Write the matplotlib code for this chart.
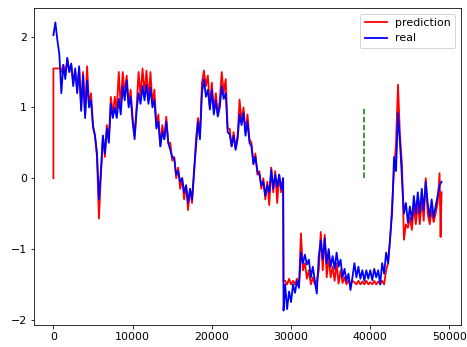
import matplotlib
matplotlib.use("Agg")
import matplotlib.pyplot as plt
from matplotlib.ticker import MultipleLocator

# ---------- Data ----------
real_x = [0, 250, 500, 750, 1000, 1250, 1500, 1750, 2000, 2250, 2500, 2750, 3000, 3250, 3500, 3750,
          4000, 4250, 4500, 4750, 5000, 5250, 5500, 5750, 6000, 6250, 6500, 6750, 7000, 7250, 7500, 7750,
          8000, 8250, 8500, 8750, 9000, 9250, 9500, 9750, 10000, 10250, 10500, 10750, 11000, 11250, 11500, 11750,
          12000, 12250, 12500, 12750, 13000, 13250, 13500, 13750, 14000, 14250, 14500, 14750, 15000, 15250, 15500, 15750,
          16000, 16250, 16500, 16750, 17000, 17250, 17500, 17750, 18000, 18250, 18500, 18750, 19000, 19250, 19500, 19750,
          20000, 20250, 20500, 20750, 21000, 21250, 21500, 21750, 22000, 22250, 22500, 22750, 23000, 23250, 23500, 23750,
          24000, 24250, 24500, 24750, 25000, 25250, 25500, 25750, 26000, 26250, 26500, 26750, 27000, 27250, 27500, 27750,
          28000, 28250, 28500, 28750, 29000, 29050, 29250, 29500, 29750, 30000, 30250, 30500, 30750, 31000, 31250, 31500,
          31750, 32000, 32250, 32500, 32750, 33000, 33250, 33500, 33750, 34000, 34250, 34500, 34750, 35000, 35250, 35500,
          35750, 36000, 36250, 36500, 36750, 37000, 37250, 37500, 37750, 38000, 38250, 38500, 38750, 39000, 39250, 39500,
          39750, 40000, 40250, 40500, 40750, 41000, 41250, 41500, 41750, 42000, 42250, 42500, 42750, 43000, 43250, 43500,
          43750, 44000, 44250, 44500, 44750, 45000, 45250, 45500, 45750, 46000, 46250, 46500, 46750, 47000, 47250, 47500,
          47750, 48000, 48250, 48500, 48750, 49000]
real_y = [2.02, 2.2, 1.95, 1.75, 1.2, 1.6, 1.4, 1.7, 1.5, 1.62, 1.3, 1.55, 1.2, 1.58, 0.95, 1.45,
          0.85, 1.38, 1.0, 1.1, 0.72, 0.6, 0.35, -0.3, 0.1, 0.6, 0.35, 0.7, 0.5, 1.05, 0.85, 1.0,
          0.85, 1.12, 0.9, 1.3, 1.1, 1.38, 1.0, 1.15, 0.8, 0.55, 0.95, 1.2, 1.05, 1.3, 1.1, 1.32,
          1.05, 1.28, 1.0, 1.1, 0.7, 0.8, 0.45, 0.65, 0.55, 0.8, 0.5, 0.4, 0.3, 0.28, 0.05, 0.1,
          -0.05, 0.0, -0.2, -0.1, -0.35, -0.15, -0.3, 0.1, 0.45, 0.8, 0.55, 1.2, 1.4, 1.15, 1.25, 0.97,
          1.25, 0.9, 1.1, 0.87, 1.0, 1.3, 1.12, 1.2, 0.65, 0.62, 0.45, 0.6, 0.4, 0.55, 0.9, 0.75,
          0.92, 0.6, 0.8, 0.5, 0.45, 0.2, 0.3, 0.1, 0.05, -0.1, -0.05, -0.25, -0.1, -0.2, 0.12, -0.15,
          0.05, -0.12, 0.05, -0.15, 0.0, -1.87, -1.5, -1.85, -1.6, -1.75, -1.5, -1.62, -1.45, -1.55, -1.05, -1.2,
          -1.08, -1.22, -1.15, -1.4, -1.25, -1.45, -1.63, -1.1, -0.88, -1.15, -0.85, -1.2, -1.0, -1.25, -1.1, -1.28,
          -1.05, -1.25, -1.15, -1.4, -1.28, -1.45, -1.35, -1.58, -1.4, -1.2, -1.4, -1.25, -1.42, -1.3, -1.45, -1.3,
          -1.42, -1.3, -1.44, -1.28, -1.4, -1.3, -1.5, -1.2, -1.35, -1.05, -1.2, -0.85, -0.5, 0.3, 0.1, 0.92,
          0.5, 0.0, -0.5, -0.35, -0.63, -0.4, -0.6, -0.25, -0.5, -0.2, -0.5, -0.15, -0.45, -0.05, -0.35, -0.55,
          -0.3, -0.55, -0.4, -0.25, -0.1, -0.05]

pred_x = [0, 0, 900, 1000, 1250, 1500, 1750, 2000, 2250, 2500, 2750, 3000, 3250, 3500, 3750,
          4000, 4250, 4500, 4750, 5000, 5250, 5500, 5750, 6000, 6250, 6500, 6750, 7000, 7250, 7500, 7750,
          8000, 8250, 8500, 8750, 9000, 9250, 9500, 9750, 10000, 10250, 10500, 10750, 11000, 11250, 11500, 11750,
          12000, 12250, 12500, 12750, 13000, 13250, 13500, 13750, 14000, 14250, 14500, 14750, 15000, 15250, 15500, 15750,
          16000, 16250, 16500, 16750, 17000, 17250, 17500, 17750, 18000, 18250, 18500, 18750, 19000, 19250, 19500, 19750,
          20000, 20250, 20500, 20750, 21000, 21250, 21500, 21750, 22000, 22250, 22500, 22750, 23000, 23250, 23500, 23750,
          24000, 24250, 24500, 24750, 25000, 25250, 25500, 25750, 26000, 26250, 26500, 26750, 27000, 27250, 27500, 27750,
          28000, 28250, 28500, 28750, 29000, 29050, 29250, 29500, 29750, 30000, 30250, 30500, 30750, 31000, 31250, 31500,
          31750, 32000, 32250, 32500, 32750, 33000, 33250, 33500, 33750, 34000, 34250, 34500, 34750, 35000, 35250, 35500,
          35750, 36000, 36250, 36500, 36750, 37000, 37250, 37500, 37750, 38000, 38250, 38500, 38750, 39000, 39250, 39500,
          39750, 40000, 40250, 40500, 40750, 41000, 41250, 41500, 41750, 42000, 42250, 42500, 42750, 43000, 43250, 43500,
          43750, 44000, 44250, 44500, 44750, 45000, 45250, 45500, 45750, 46000, 46250, 46500, 46750, 47000, 47250, 47500,
          47750, 48000, 48250, 48500, 48750, 48875, 49000]
pred_y = [0.0, 1.55, 1.55, 1.5, 1.6, 1.45, 1.68, 1.5, 1.6, 1.35, 1.52, 1.25, 1.55, 1.0, 1.5,
          0.9, 1.58, 1.05, 1.2, 0.75, 0.6, 0.3, -0.57, 0.05, 0.6, 0.3, 0.75, 0.55, 1.15, 0.9, 1.15,
          0.95, 1.5, 1.0, 1.5, 1.2, 1.45, 1.05, 1.25, 0.85, 0.6, 1.0, 1.5, 1.15, 1.55, 1.2, 1.52,
          1.1, 1.5, 1.05, 1.25, 0.75, 0.9, 0.45, 0.75, 0.55, 0.87, 0.5, 0.5, 0.25, 0.3, 0.0, 0.15,
          -0.15, 0.0, -0.3, -0.1, -0.45, -0.15, -0.35, 0.05, 0.55, 0.85, 0.6, 1.35, 1.52, 1.3, 1.45, 1.0,
          1.35, 0.95, 1.2, 0.9, 1.1, 1.5, 1.2, 1.4, 0.7, 0.7, 0.45, 0.65, 0.42, 0.6, 1.11, 0.8,
          1.0, 0.65, 0.9, 0.55, 0.5, 0.2, 0.35, 0.05, 0.1, -0.15, 0.0, -0.3, -0.05, -0.38, 0.15, -0.2,
          0.1, -0.35, 0.05, -0.2, 0.0, -1.45, -1.45, -1.5, -1.42, -1.5, -1.45, -1.5, -1.42, -1.5, -0.78, -1.3,
          -1.2, -1.42, -1.3, -1.5, -1.4, -1.5, -1.45, -1.3, -0.76, -1.3, -0.8, -1.4, -1.1, -1.4, -1.25, -1.45,
          -1.2, -1.49, -1.3, -1.48, -1.4, -1.5, -1.45, -1.5, -1.45, -1.47, -1.5, -1.45, -1.5, -1.46, -1.5, -1.45,
          -1.5, -1.47, -1.5, -1.45, -1.5, -1.46, -1.5, -1.45, -1.5, -1.3, -1.2, -0.87, -0.4, 0.1, 0.5, 1.32,
          0.6, 0.2, -0.87, -0.65, -0.7, -0.55, -0.73, -0.4, -0.65, -0.35, -0.65, -0.3, -0.6, 0.0, -0.5, -0.65,
          -0.45, -0.62, -0.5, -0.35, 0.07, -0.83, -0.2]

split_x = 39200
split_y = [0, 1]

# ---------- Plot ----------
plt.rcParams["font.size"] = 11

fig = plt.figure(figsize=(467 / 72, 347 / 72), dpi=72)
ax = fig.add_axes([0.0728, 0.0634, 0.9143, 0.9135])

ax.plot(pred_x, pred_y, color="red", linewidth=1.8, label="prediction")
ax.plot(real_x, real_y, color="blue", linewidth=1.8, label="real")
ax.vlines(split_x, split_y[0], split_y[1], colors="green", linestyles="dashed")
ax.yaxis.set_major_locator(MultipleLocator(1))
ax.legend(loc="upper right")

fig.savefig("out.png", dpi=72)
